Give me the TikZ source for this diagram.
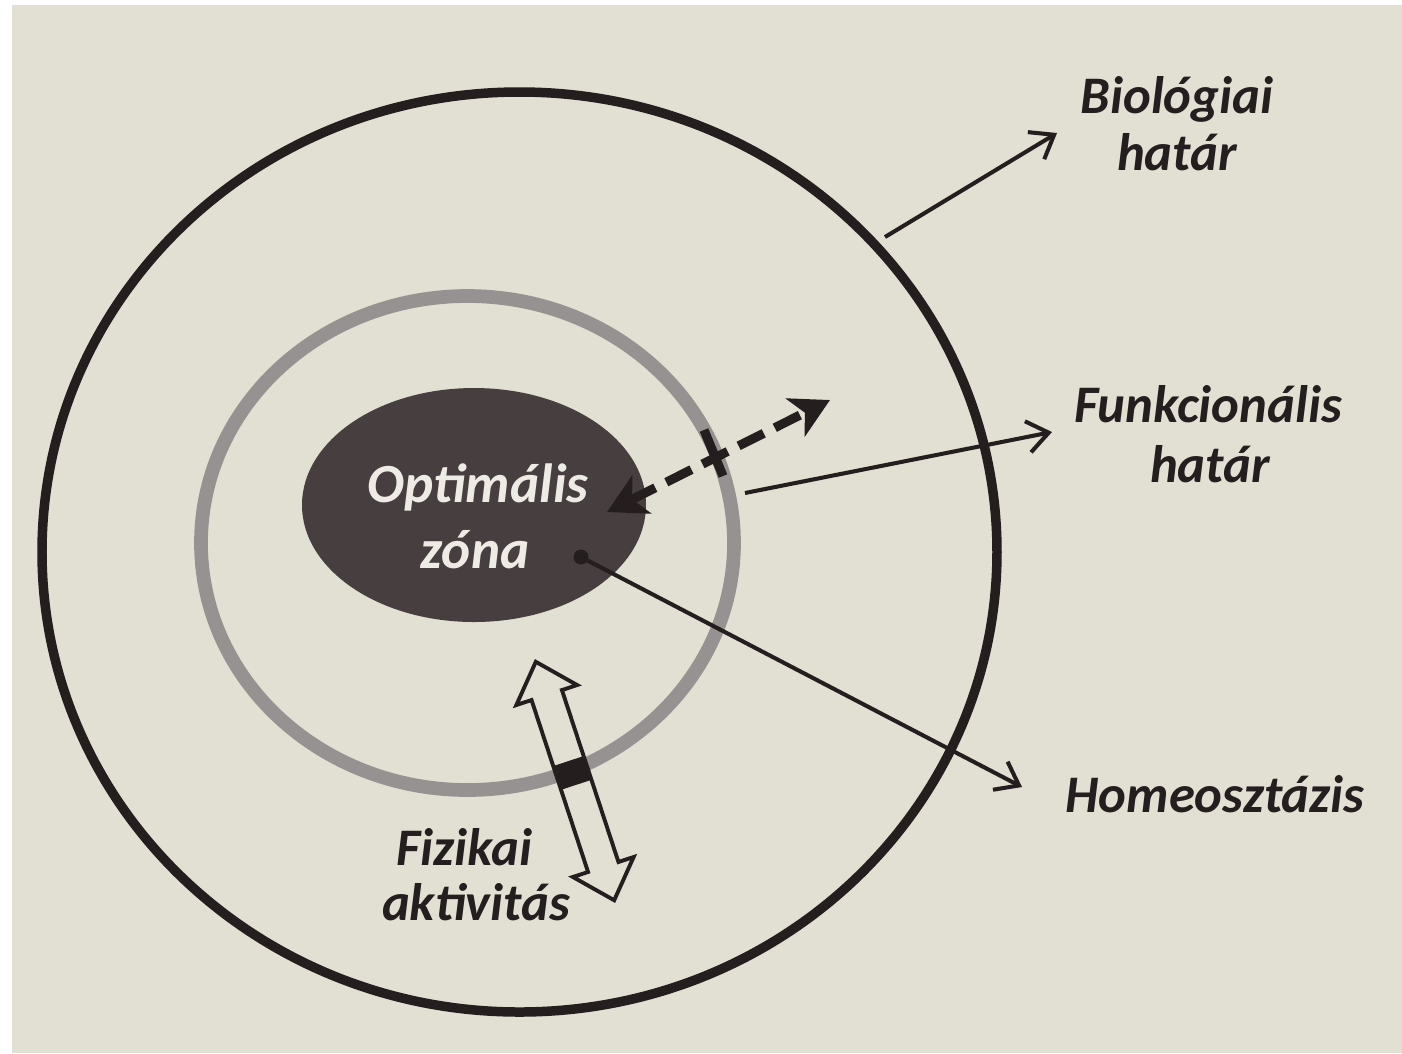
\documentclass[tikz,border=0pt]{standalone}
\usepackage{fontspec}
\setmainfont{Carlito}
\usepackage{xcolor}
\usepackage{tikz}
\usetikzlibrary{arrows.meta}

\definecolor{paper}{RGB}{226,223,211}
\definecolor{ink}{RGB}{36,30,31}
\definecolor{ringgray}{RGB}{150,146,145}
\definecolor{zone}{RGB}{70,62,63}
\definecolor{zonetext}{RGB}{238,235,228}

\begin{document}
\begin{tikzpicture}[x=0.01cm, y=-0.01cm,
    lbl/.style={anchor=base, inner sep=0pt, text=ink, font=\fontsize{15}{17}\selectfont\bfseries\itshape},
    zonelbl/.style={lbl, text=zonetext, font=\fontsize{15.7}{18}\selectfont\bfseries\itshape},
    pointer/.style={ink, line width=1.15pt, -{Straight Barb[length=6pt,width=9pt]}}]
    % Page  (pixel grid 1402 x 1053, photo margin left and top)
    \useasboundingbox (0,0) rectangle (1402,1053);
    \fill[white] (0,0) rectangle (1402,1053);
    \fill[paper] (12,5) rectangle (1402,1053);

    % Biological limit (outer) and functional limit (grey)
    \draw[ink, line width=2.7pt] (519.5,552) ellipse [x radius=477.5, y radius=460];
    \draw[ringgray, line width=3.9pt] (467.5,543) ellipse [x radius=266.5, y radius=247];

    % Optimal zone
    \fill[zone] (474,505) ellipse [x radius=172, y radius=117];
    \node[zonelbl] (opt) at (478,502) {Optimális};
    \node[zonelbl] (zona) at (475,568) {zóna};

    % Labels on the right and below
    \node[lbl] (bioA) at (1177,113) {Biológiai};
    \node[lbl] (bioB) at (1177,170) {határ};
    \node[lbl] (funA) at (1208,422) {Funkcionális};
    \node[lbl] (funB) at (1210,482) {határ};
    \node[lbl] (homeo) at (1215,812) {Homeosztázis};
    \node[lbl] (fizA) at (464,865) {Fizikai};
    \node[lbl] (fizB) at (476,920) {aktivitás};

    % Physical activity: hollow double arrow across the grey ring
    \begin{scope}[shift={(575,781)}, rotate=-71.8]
        \filldraw[fill=paper, draw=ink, line width=1.1pt, line join=miter]
            (-125.5,0) -- (-90.5,32) -- (-90.5,16) -- (90.5,16) -- (90.5,32) -- (125.5,0)
            -- (90.5,-32) -- (90.5,-16) -- (-90.5,-16) -- (-90.5,-32) -- cycle;
        \fill[ink] (-21,-16) rectangle (4,16);
    \end{scope}

    % Pointers to the labels
    \coordinate (bioS) at (885,237);
    \coordinate (bioT) at (1057,133);
    \draw[pointer] (bioS) -- (bioT);
    \coordinate (funS) at (745,493);
    \coordinate (funT) at (1052,432);
    \draw[pointer] (funS) -- (funT);
    \coordinate (homS) at (581,557);
    \coordinate (homT) at (1022,787);
    \fill[ink] (homS) circle [radius=7.5];
    \draw[pointer] (homS) -- (homT);

    % Dashed double arrow with tick at the functional limit
    \coordinate (dashA) at (607,512);
    \coordinate (dashB) at (830,400);
    \draw[ink, line width=2.6pt, dash pattern=on 8pt off 3.5pt,
        {Stealth[length=11pt,width=12pt,inset=3pt]}-{Stealth[length=11pt,width=12pt,inset=3pt]}] (dashA) -- (dashB);
    \coordinate (tickA) at (704,430);
    \coordinate (tickB) at (723,476);
    \draw[ink, line width=2.6pt] (tickA) -- (tickB);
\end{tikzpicture}
\end{document}
